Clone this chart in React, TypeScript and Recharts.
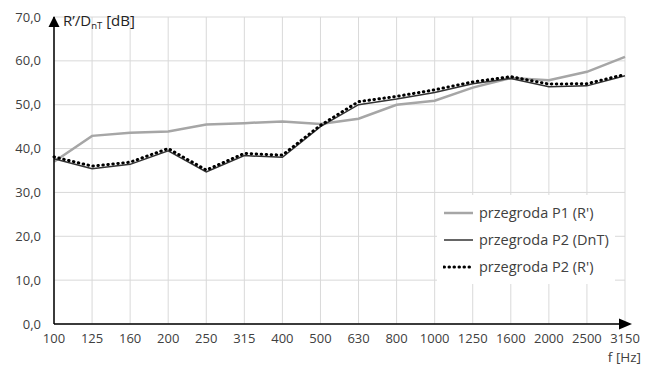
import React from 'react';
import { LineChart, Line, XAxis, YAxis, CartesianGrid, Legend } from 'recharts';

const frequencies = ['100', '125', '160', '200', '250', '315', '400', '500', '630', '800', '1000', '1250', '1600', '2000', '2500', '3150'];
const p1R = [37.0, 42.9, 43.6, 43.9, 45.5, 45.8, 46.2, 45.6, 46.8, 50.0, 50.9, 53.9, 56.1, 55.6, 57.5, 60.9];
const p2DnT = [37.7, 35.4, 36.4, 39.5, 34.7, 38.4, 38.0, 45.0, 50.0, 51.3, 52.8, 54.8, 56.0, 54.1, 54.3, 56.6];
const p2R = [38.1, 36.0, 36.9, 40.0, 35.1, 38.9, 38.5, 45.3, 50.7, 51.9, 53.4, 55.2, 56.4, 54.7, 54.8, 56.9];
const yTicks = [0, 10, 20, 30, 40, 50, 60, 70];
const seriesNames = ['przegroda P1 (R\')', 'przegroda P2 (DnT)', 'przegroda P2 (R\')'];

const data = frequencies.map((f, i) => ({ f, p1R: p1R[i], p2DnT: p2DnT[i], p2R: p2R[i] }));

const FONT = '"Open Sans", sans-serif';
const TEXT = '#404040';

const XLabel = (props: any) => {
  const { x, y, width } = props.viewBox;
  const right = x + width;
  return (
    <g>
      <path d={`M${right - 6},${y - 5.5} L${right + 7},${y} L${right - 6},${y + 5.5} Z`} fill="#000" />
      <text x={right + 16} y={y + 38} textAnchor="end" fontFamily={FONT} fontSize={13.5} fill={TEXT}>
        f [Hz]
      </text>
    </g>
  );
};

const YLabel = (props: any) => {
  const { x, y, width } = props.viewBox;
  const ax = x + width;
  return (
    <g>
      <path d={`M${ax - 5.5},${y + 10} L${ax},${y - 1} L${ax + 5.5},${y + 10} Z`} fill="#000" />
      <text x={ax + 9} y={y + 9} fontFamily={FONT} fontSize={15} fill="#222">
        R’/D<tspan fontSize={9.5} dy={3}>nT</tspan><tspan dy={-3}> [dB]</tspan>
      </text>
    </g>
  );
};

const LegendContent = () => {
  const samples = [
    { stroke: '#a6a6a6', width: 2.5, dash: undefined, cap: 'butt' },
    { stroke: '#333', width: 1.5, dash: undefined, cap: 'butt' },
    { stroke: '#000', width: 3, dash: '0.5 4.5', cap: 'round' },
  ];
  return (
    <div style={{ background: '#fff', padding: '4px 6px 4px 6px', fontFamily: FONT, fontSize: 14.5, color: TEXT }}>
      {seriesNames.map((name, i) => (
        <div key={name} style={{ display: 'flex', alignItems: 'center', height: 27 }}>
          <svg width={32} height={10} style={{ marginRight: 4 }}>
            <line x1={1} y1={5} x2={30} y2={5} stroke={samples[i].stroke} strokeWidth={samples[i].width}
              strokeDasharray={samples[i].dash} strokeLinecap={samples[i].cap as any} />
          </svg>
          <span>{name}</span>
        </div>
      ))}
    </div>
  );
};

export default function App() {
  return (
    <div style={{ position: 'absolute', left: 0, top: 0, width: 650, height: 367, background: '#fff' }}>
      <LineChart width={650} height={367} data={data} margin={{ top: 17, right: 25, bottom: 13, left: 4 }}>
        <CartesianGrid stroke="#d9d9d9" strokeWidth={1} vertical horizontal />
        <XAxis dataKey="f" tickLine={false} axisLine={{ stroke: '#000', strokeWidth: 1.5 }} height={30}
          tick={{ fontFamily: FONT, fontSize: 13, fill: TEXT }} tickMargin={4} interval={0}
          label={<XLabel />} />
        <YAxis domain={[0, 70]} ticks={yTicks} tickLine={false} axisLine={{ stroke: '#000', strokeWidth: 1.5 }} width={50}
          tick={{ fontFamily: FONT, fontSize: 13, fill: TEXT }} tickMargin={7}
          tickFormatter={(v: number) => v.toFixed(1).replace('.', ',')}
          label={<YLabel />} />
        <Legend layout="vertical" align="center" verticalAlign="middle" content={<LegendContent />}
          wrapperStyle={{ position: 'absolute', left: 437, top: 195, width: 'auto' }} />
        <Line dataKey="p1R" name={seriesNames[0]} stroke="#a6a6a6" strokeWidth={2.5} dot={false} isAnimationActive={false} />
        <Line dataKey="p2DnT" name={seriesNames[1]} stroke="#333" strokeWidth={1.5} dot={false} isAnimationActive={false} />
        <Line dataKey="p2R" name={seriesNames[2]} stroke="#000" strokeWidth={3} strokeDasharray="0.5 4.5" strokeLinecap="round" dot={false} isAnimationActive={false} />
      </LineChart>
    </div>
  );
}
